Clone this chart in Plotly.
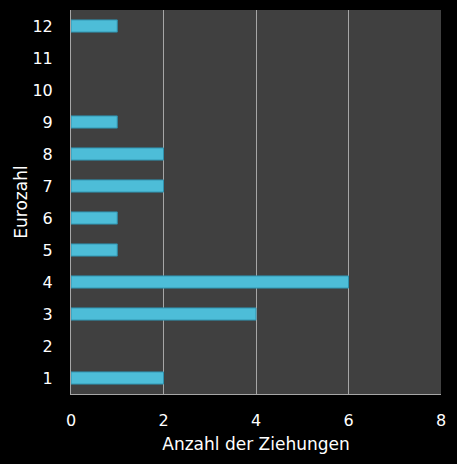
import plotly.graph_objects as go

eurozahlen = [1, 2, 3, 4, 5, 6, 7, 8, 9, 10, 11, 12]
ziehungen = [2, 0, 4, 6, 1, 1, 2, 2, 1, 0, 0, 1]
x_ticks = [0, 2, 4, 6, 8]

# keine Randlinie bei leeren Balken
line_widths = [1 if v else 0 for v in ziehungen]

fig = go.Figure(go.Bar(
    x=ziehungen,
    y=eurozahlen,
    orientation='h',
    width=0.38,
    marker=dict(color='#4dbdd8', line=dict(color='#2f8fab', width=line_widths)),
))

fig.update_layout(
    width=457, height=464,
    margin=dict(l=71, r=16, t=10, b=70),
    paper_bgcolor='black',
    plot_bgcolor='#404040',
    font=dict(family='DejaVu Sans', color='white', size=16),
    showlegend=False,
)
fig.update_xaxes(
    range=[0, 8], tickvals=x_ticks, showgrid=True, gridcolor='#a6a6a6', gridwidth=1,
    zeroline=False, showline=True, linecolor='#a6a6a6', linewidth=1,
    ticks='', ticklabelstandoff=12,
    title=dict(text='Anzahl der Ziehungen', font=dict(size=17), standoff=8),
)
fig.update_yaxes(
    range=[0.5, 12.5], tickvals=eurozahlen, showgrid=False, zeroline=False,
    showline=True, linecolor='#a6a6a6', linewidth=1, ticks='', ticklabelstandoff=14,
    title=dict(text='Eurozahl', font=dict(size=17), standoff=0),
)

fig.write_html("out.html", config={'displayModeBar': False},
               post_script="document.body.style.margin='0';document.body.style.background='black';")
